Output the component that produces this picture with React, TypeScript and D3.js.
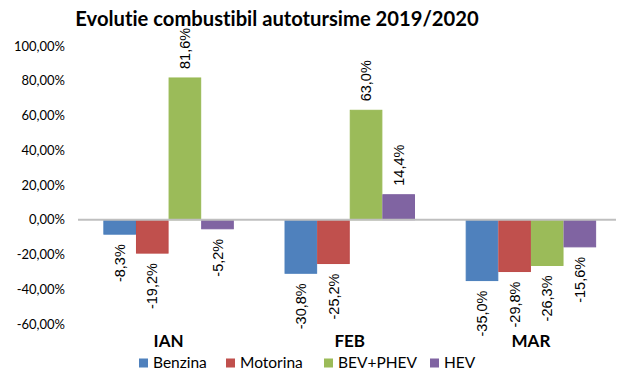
import React from "react";
import * as d3 from "d3";

const categories = ["IAN", "FEB", "MAR"];
const seriesNames = ["Benzina", "Motorina", "BEV+PHEV", "HEV"];
const seriesColors = ["#4F81BD", "#C0504D", "#9BBB59", "#8064A2"];
const seriesBorders = ["#4A7EBB", "#BE4B48", "#98B954", "#7D60A0"];
const benzina = [-8.3, -30.8, -35.0];
const motorina = [-19.2, -25.2, -29.8];
const bevphev = [81.6, 63.0, -26.3];
const hev = [-5.2, 14.4, -15.6];
const yTicks = [100, 80, 60, 40, 20, 0, -20, -40, -60];
const title = "Evolutie combustibil autotursime 2019/2020";

const W = 624;
const H = 379;

export default function App() {
  const series = [benzina, motorina, bevphev, hev];
  const x0 = d3.scaleBand<string>().domain(categories).range([78, 621.5]).paddingInner(0.28).paddingOuter(0.14);
  const x1 = d3.scaleBand<string>().domain(seriesNames).range([0, x0.bandwidth()]).padding(0);
  const y = d3.scaleLinear().domain([-60, 100]).range([324, 46]);
  const fmtTick = (v: number) => v.toFixed(2).replace(".", ",") + "%";
  const fmtVal = (v: number) => v.toFixed(1).replace(".", ",") + "%";

  return (
    <div style={{ margin: -8 }}>
      <svg width={W} height={H} style={{ display: "block", background: "#fff", fontVariantLigatures: "none" }}>
        <text x={277} y={26} textAnchor="middle" fontFamily="Lato" fontWeight="bold" fontSize={20.2} fill="#000"
          style={{ fontVariantLigatures: "none" }}>
          {title}
        </text>
        {yTicks.map((t) => (
          <text key={t} x={65} y={y(t)} dy="0.35em" textAnchor="end" fontFamily="Lato" fontSize={13} fill="#000">
            {fmtTick(t)}
          </text>
        ))}
        {categories.map((c, ci) => (
          <g key={c} transform={`translate(${x0(c)},0)`}>
            {seriesNames.map((s, si) => {
              const v = series[si][ci];
              const yTop = y(Math.max(0, v));
              const yBot = y(Math.min(0, v));
              const bx = x1(s) as number;
              const cx = bx + x1.bandwidth() / 2;
              const ly = v >= 0 ? yTop - 9 : yBot + 10;
              return (
                <g key={s}>
                  <rect x={bx + 0.5} y={yTop} width={x1.bandwidth() - 1} height={yBot - yTop}
                    fill={seriesColors[si]} stroke={seriesBorders[si]} strokeWidth={1} />
                  <text transform={`translate(${cx},${ly}) rotate(-90)`} textAnchor={v >= 0 ? "start" : "end"}
                    dy="0.35em" fontFamily="Liberation Sans" fontSize={14.5} fill="#000">
                    {fmtVal(v)}
                  </text>
                </g>
              );
            })}
            <text x={x0.bandwidth() / 2} y={347} textAnchor="middle" fontFamily="Lato" fontWeight="bold" fontSize={17} fill="#000">
              {c}
            </text>
          </g>
        ))}
        <line x1={78} x2={621.5} y1={y(0)} y2={y(0)} stroke="#BFBFBF" strokeWidth={2} />
        {(() => {
          const legendX = [139, 226, 324, 430];
          return seriesNames.map((s, si) => (
            <g key={s}>
              <rect x={legendX[si]} y={358.5} width={9} height={9} fill={seriesColors[si]} />
              <text x={legendX[si] + 14} y={363} dy="0.35em" fontFamily="Lato" fontSize={15.5} fill="#000">
                {s}
              </text>
            </g>
          ));
        })()}
      </svg>
    </div>
  );
}
